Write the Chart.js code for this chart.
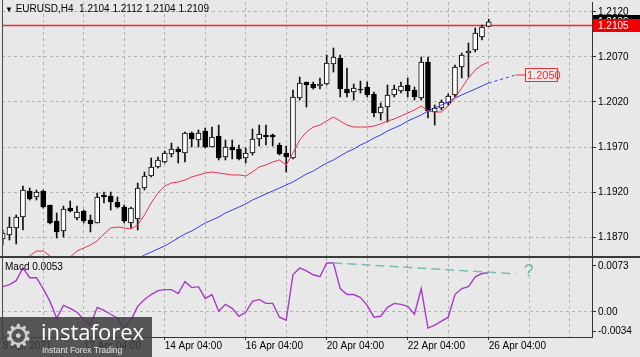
<!DOCTYPE html>
<html><head><meta charset="utf-8">
<script src="https://cdn.jsdelivr.net/npm/chart.js@4.4.1/dist/chart.umd.min.js"></script>
<style>
html,body{margin:0;padding:0;background:#e8e8e8;width:640px;height:357px;overflow:hidden}
#wrap{position:relative;width:640px;height:357px;font-family:"Liberation Sans",Arial,sans-serif}
canvas{position:absolute;left:0}
#c1{top:0}
#c2{top:258px}
.t{position:absolute;font-size:10px;color:#000;white-space:pre;line-height:12px}
#sep{position:absolute;left:0;top:256px;width:640px;height:2px;background:#3a3a3a}
#wm{position:absolute;left:0;top:317px;width:152px;height:40px;background:rgba(62,62,62,0.86)}
</style></head><body>
<div id="wrap">
<canvas id="c1" width="640" height="257"></canvas>
<canvas id="c2" width="640" height="99"></canvas>
<div id="sep"></div>
<div class="t" style="left:5px;top:3px"><span style="font-size:8px">▼</span> EURUSD,H4  1.2104 1.2112 1.2104 1.2109</div>
<div class="t" style="left:5px;top:261px">Macd 0.0053</div>
<div class="t" style="left:524px;top:262px;font-size:17px;line-height:18px;color:#6db5ab">?</div>
<div id="wm">
  <div style="position:absolute;left:4px;top:0px;font-size:32px;line-height:38px;color:#d0d0d0;font-family:'DejaVu Sans'">⚙</div>
  <div style="position:absolute;left:41px;top:2px;font-size:22px;line-height:24px;color:#fff;font-family:'Open Sans'">instaforex</div>
  <div style="position:absolute;left:42px;top:28px;font-size:8.5px;line-height:10px;color:#e4e4e4">Instant Forex Trading</div>
</div>
</div>
<script>
// ---- data ----
const dateLabels = ['8 Apr 2021','12 Apr 04:00','14 Apr 04:00','16 Apr 04:00','20 Apr 04:00','22 Apr 04:00','26 Apr 04:00'];
const priceTicks = [1.2120, 1.2070, 1.2020, 1.1970, 1.1920, 1.1870];
const priceTickLabels = ['1.2120','1.2070','1.2020','1.1970','1.1920','1.1870'];
const macdTicks = [0.0073, 0, -0.0034];
const macdTickLabels = ['0.0073','0.00','-0.0034'];
const gridIdx = [0,6,12,18,24,30,36,42,48,54,60,66,72,78,84];

const open = [1.18678,1.18722,1.18800,1.18922,1.19211,1.19144,1.19211,1.19056,1.18878,1.18767,
1.19022,1.18911,1.18989,1.18889,1.18856,1.19167,1.19156,1.19089,1.19033,1.18856,
1.18900,1.19244,1.19378,1.19478,1.19533,1.19622,1.19678,1.19633,1.19856,1.19778,
1.19878,1.19700,1.19822,1.19589,1.19700,1.19678,1.19578,1.19633,1.19789,1.19833,
1.19833,1.19722,1.19633,1.19578,1.20244,1.20422,1.20400,1.20378,1.20400,1.20622,
1.20689,1.20344,1.20311,1.20344,1.20367,1.20289,1.20078,1.20144,1.20278,1.20322,
1.20389,1.20333,1.20244,1.20644,1.20089,1.20133,1.20189,1.20278,1.20589,1.20744,
1.20778,1.20922,1.2104];
const high = [1.18778,1.18922,1.18944,1.19267,1.19244,1.19222,1.19222,1.19056,1.18967,1.19044,
1.19100,1.19044,1.19000,1.18944,1.19189,1.19200,1.19200,1.19144,1.19056,1.19033,
1.19300,1.19422,1.19578,1.19589,1.19656,1.19744,1.19700,1.19867,1.19867,1.19889,
1.19911,1.19922,1.19944,1.19778,1.19778,1.19722,1.19689,1.19900,1.19944,1.19944,
1.19844,1.19744,1.19711,1.20333,1.20478,1.20422,1.20422,1.20467,1.20722,1.20800,
1.20722,1.20578,1.20400,1.20433,1.20422,1.20311,1.20189,1.20389,1.20389,1.20422,
1.20467,1.20367,1.20700,1.20700,1.20167,1.20222,1.20289,1.20611,1.20744,1.20856,
1.21022,1.21056,1.2112];
const low = [1.18611,1.18667,1.18622,1.18778,1.19111,1.19111,1.19022,1.18844,1.18689,1.18700,
1.18978,1.18889,1.18856,1.18756,1.18856,1.19078,1.19000,1.19022,1.18856,1.18800,
1.18778,1.19222,1.19367,1.19467,1.19522,1.19589,1.19522,1.19533,1.19700,1.19700,
1.19689,1.19700,1.19556,1.19556,1.19567,1.19556,1.19522,1.19611,1.19711,1.19722,
1.19711,1.19611,1.19422,1.19567,1.20222,1.20144,1.20344,1.20344,1.20389,1.20533,
1.20256,1.20256,1.20222,1.20300,1.20256,1.20033,1.20000,1.19978,1.20256,1.20300,
1.20256,1.20222,1.20222,1.20022,1.19944,1.20111,1.20167,1.20256,1.20467,1.20478,
1.20756,1.20889,1.2104];
const close = [1.18744,1.18811,1.18922,1.19222,1.19122,1.19200,1.19033,1.18856,1.18756,1.19011,
1.18989,1.18978,1.18878,1.18844,1.19144,1.19144,1.19089,1.19033,1.18878,1.19022,
1.19244,1.19378,1.19478,1.19556,1.19633,1.19678,1.19644,1.19856,1.19789,1.19856,
1.19700,1.19811,1.19578,1.19700,1.19667,1.19567,1.19633,1.19789,1.19844,1.19811,
1.19811,1.19622,1.19589,1.20256,1.20411,1.20389,1.20356,1.20400,1.20633,1.20700,
1.20344,1.20300,1.20356,1.20333,1.20278,1.20078,1.20144,1.20278,1.20344,1.20378,
1.20322,1.20256,1.20644,1.20100,1.20133,1.20200,1.20267,1.20589,1.20722,1.20767,
1.20967,1.21033,1.2109];
const maFast = [null,null,null,1.18433,1.18489,1.18544,1.18544,1.18489,1.18444,1.18444,
1.18478,1.18544,1.18578,1.18611,1.18656,1.18733,1.18800,1.18811,1.18800,1.18789,
1.18833,1.18944,1.19078,1.19189,1.19267,1.19300,1.19311,1.19333,1.19367,1.19389,
1.19411,1.19422,1.19411,1.19400,1.19389,1.19389,1.19378,1.19422,1.19478,1.19500,
1.19533,1.19556,1.19500,1.19633,1.19778,1.19867,1.19922,1.19944,1.19989,1.20033,
1.19989,1.19944,1.19922,1.19922,1.19922,1.19933,1.19956,1.19989,1.20011,1.20044,
1.20078,1.20111,1.20156,1.20100,1.20089,1.20089,1.20156,1.20244,1.20356,1.20467,
1.20556,1.20611,1.20644];
const maSlow = [null,null,null,null,null,null,null,null,null,null,
null,null,null,null,null,null,null,null,null,1.18422,
1.18456,1.18500,1.18533,1.18567,1.18600,1.18644,1.18689,1.18733,1.18767,1.18811,
1.18856,1.18889,1.18922,1.18967,1.19000,1.19033,1.19067,1.19111,1.19144,1.19178,
1.19211,1.19244,1.19278,1.19311,1.19356,1.19400,1.19433,1.19478,1.19522,1.19556,
1.19600,1.19644,1.19678,1.19722,1.19756,1.19800,1.19833,1.19878,1.19911,1.19944,
1.19989,1.20022,1.20056,1.20100,1.20133,1.20167,1.20200,1.20244,1.20278,1.20311,
1.20344,1.20378,1.20411];
const macd = [0.00342,0.00369,0.00423,0.00596,0.00463,0.00463,0.00316,0.00142,-0.00086,0.00088,
0.00048,-0.00005,-0.00099,-0.00179,0.00062,0.00021,-0.00032,-0.00086,-0.00219,-0.00112,
0.00075,0.00169,0.00235,0.00289,0.00302,0.00302,0.00249,0.00409,0.00329,0.00342,
0.00182,0.00235,0.00008,0.00102,0.00048,-0.00059,-0.00005,0.00142,0.00169,0.00115,
0.00115,-0.00072,-0.00112,0.00503,0.00596,0.00556,0.00503,0.00476,0.00663,0.00663,
0.00316,0.00235,0.00235,0.00195,0.00088,-0.00072,-0.00059,0.00062,0.00115,0.00102,
0.00075,-0.00032,0.00316,-0.00219,-0.00179,-0.00126,-0.00072,0.00235,0.00316,0.00342,
0.00476,0.00520,0.00530];
const levelPrice = 1.2105;
const forecastPrice = 1.2050;
const forecastIdx = 76;
const forecastBoxIdx = 77.4;
const macdTrendStart = 49;
const macdTrendEndIdx = 76;
const macdTrendEnd = 0.00516;

// ---- layout constants ----
const X_MIN = -0.104, X_MAX = 87.3;
const Y_MIN = 1.184889, Y_MAX = 1.213111;
const GRID = '#b4b4b4';
const FONT = '"Liberation Sans", Arial, sans-serif';
Chart.defaults.font.family = FONT;
Chart.defaults.font.size = 10;
Chart.defaults.color = '#000';

const N = open.length;
const idx = open.map((_, i) => i);
const pts = arr => arr.map((v, i) => v == null ? null : {x: i, y: v}).filter(Boolean);
const noPad = s => { s.paddingTop = 0; s.paddingBottom = 0; s.paddingLeft = 0; s.paddingRight = 0; };

const mainDecor = {
  id: 'mainDecor',
  afterDraw(chart) {
    const {ctx, chartArea: a, scales: {x, y}} = chart;
    ctx.save();
    ctx.strokeStyle = '#4a4a4a'; ctx.lineWidth = 1;
    ctx.beginPath(); ctx.moveTo(a.left + 0.5, 0); ctx.lineTo(a.left + 0.5, a.bottom); ctx.stroke();
    ctx.font = '10px ' + FONT; ctx.textBaseline = 'middle';
    let py = y.getPixelForValue(close[N - 1]);
    ctx.fillStyle = '#000'; ctx.fillRect(593, Math.round(py) - 7, 47, 13);
    ctx.fillStyle = '#fff'; ctx.fillText(close[N - 1].toFixed(4), 598, py);
    py = y.getPixelForValue(levelPrice);
    ctx.fillStyle = '#f20000'; ctx.fillRect(593, Math.round(py) - 6, 47, 13);
    ctx.fillStyle = '#fff'; ctx.fillText(levelPrice.toFixed(4), 598, py + 0.5);
    const bx = Math.round(x.getPixelForValue(forecastBoxIdx));
    py = Math.round(y.getPixelForValue(forecastPrice));
    ctx.fillStyle = '#ececec'; ctx.fillRect(bx, py - 7, 33, 14);
    ctx.strokeStyle = '#f03030'; ctx.strokeRect(bx + 0.5, py - 6.5, 32, 13);
    ctx.fillStyle = '#f03030'; ctx.font = '11px ' + FONT; ctx.fillText(forecastPrice.toFixed(4), bx + 2, py + 0.5);
    ctx.restore();
  }
};
const subDecor = {
  id: 'subDecor',
  afterDraw(chart) {
    const {ctx, chartArea: a} = chart;
    ctx.save();
    ctx.strokeStyle = '#4a4a4a'; ctx.lineWidth = 1;
    ctx.beginPath(); ctx.moveTo(a.left + 0.5, a.top); ctx.lineTo(a.left + 0.5, a.bottom); ctx.stroke();
    ctx.restore();
  }
};

const common = {
  responsive: false, animation: false, devicePixelRatio: 1, events: [],
  plugins: {legend: {display: false}, tooltip: {enabled: false}}
};

new Chart(document.getElementById('c1'), {
  type: 'bar',
  data: {datasets: [
    {type: 'line', label: 'level', data: [{x: X_MIN, y: levelPrice}, {x: X_MAX, y: levelPrice}],
     borderColor: '#ff2424', backgroundColor: '#ff2424', borderWidth: 1.6, pointRadius: 0, order: 3},
    {label: 'wick', data: idx.map(i => ({x: i, y: [low[i], high[i]]})), backgroundColor: '#111',
     barThickness: 1, grouped: false, order: 2},
    {label: 'body', data: idx.map(i => ({x: i, y: [open[i], close[i]]})),
     backgroundColor: idx.map(i => close[i] >= open[i] ? '#ffffff' : '#000000'),
     borderColor: '#000', borderWidth: 1, borderSkipped: false, barThickness: 5, grouped: false, order: 1},
    {type: 'line', label: 'MA fast', data: pts(maFast), borderColor: '#e0344f', borderWidth: 1, pointRadius: 0, order: 0},
    {type: 'line', label: 'MA slow', data: pts(maSlow), borderColor: '#3040ee', borderWidth: 1, pointRadius: 0, order: 0},
    {type: 'line', label: 'forecast', data: [{x: N - 1, y: maSlow[N - 1]}, {x: forecastIdx, y: forecastPrice}],
     borderColor: '#3040ee', borderDash: [3, 3], borderWidth: 1, pointRadius: 0, order: 0},
    {type: 'line', label: 'target', data: [{x: forecastIdx, y: forecastPrice}, {x: forecastBoxIdx, y: forecastPrice}],
     borderColor: '#f03030', borderWidth: 1, pointRadius: 0, order: 0}
  ]},
  options: Object.assign({}, common, {
    layout: {padding: {left: 2, top: 2, right: 0, bottom: 1}},
    scales: {
      x: {type: 'linear', min: X_MIN, max: X_MAX, offset: false,
          afterBuildTicks: a => { a.ticks = gridIdx.map(v => ({value: v})); },
          ticks: {display: false}, grid: {color: GRID, drawTicks: false, offset: false},
          border: {display: false, dash: [3, 3]},
          afterFit: s => { s.height = 0; noPad(s); }},
      y: {position: 'right', min: Y_MIN, max: Y_MAX,
          afterBuildTicks: a => { a.ticks = priceTicks.map(v => ({value: v})); },
          ticks: {callback: (v, i) => priceTickLabels[i], padding: 2, autoSkip: false},
          grid: {color: GRID, tickLength: 4, tickColor: '#333'},
          border: {display: true, color: '#333', dash: [3, 3]},
          afterFit: s => { s.width = 48; noPad(s); }}
    }
  }),
  plugins: [mainDecor]
});

new Chart(document.getElementById('c2'), {
  type: 'line',
  data: {datasets: [
    {label: 'trend', data: [{x: macdTrendStart, y: macd[macdTrendStart]}, {x: macdTrendEndIdx, y: macdTrendEnd}],
     borderColor: '#78beb3', borderDash: [9, 5], borderWidth: 1.5, pointRadius: 0},
    {label: 'MACD', data: pts(macd), borderColor: '#a63cc6', borderWidth: 1.4, pointRadius: 0}
  ]},
  options: Object.assign({}, common, {
    layout: {padding: {left: 2, top: 0, right: 0, bottom: 0}},
    scales: {
      x: {type: 'linear', min: X_MIN, max: X_MAX, offset: false,
          afterBuildTicks: a => { a.ticks = gridIdx.map(v => ({value: v})); },
          ticks: {autoSkip: false, maxRotation: 0, minRotation: 0, align: 'start', padding: 0,
                  callback: v => (v % 12 === 0 && v / 12 < dateLabels.length) ? dateLabels[v / 12] : ''},
          grid: {color: GRID, tickLength: 3, offset: false,
                 tickColor: c => (c.tick && c.tick.value % 12 === 0 && c.tick.value / 12 < dateLabels.length) ? '#333' : 'rgba(0,0,0,0)'},
          border: {display: true, color: '#333', dash: [3, 3]},
          afterFit: s => { s.height = 20; noPad(s); }},
      y: {position: 'right', min: macdTicks[2], max: macdTicks[0],
          afterBuildTicks: a => {
            const u = (a.max - a.min) / 79;
            a.ticks = [{value: a.max - 8 * u}, {value: macdTicks[1]}, {value: a.min + 6 * u}];
          },
          ticks: {callback: (v, i) => macdTickLabels[i], padding: 2, autoSkip: false},
          grid: {color: c => c.index === 1 ? GRID : 'rgba(0,0,0,0)', tickLength: 4, tickColor: '#333'},
          border: {display: true, color: '#333', dash: [3, 3]},
          afterFit: s => { s.width = 48; noPad(s); }}
    }
  }),
  plugins: [subDecor]
});
</script>
</body></html>
